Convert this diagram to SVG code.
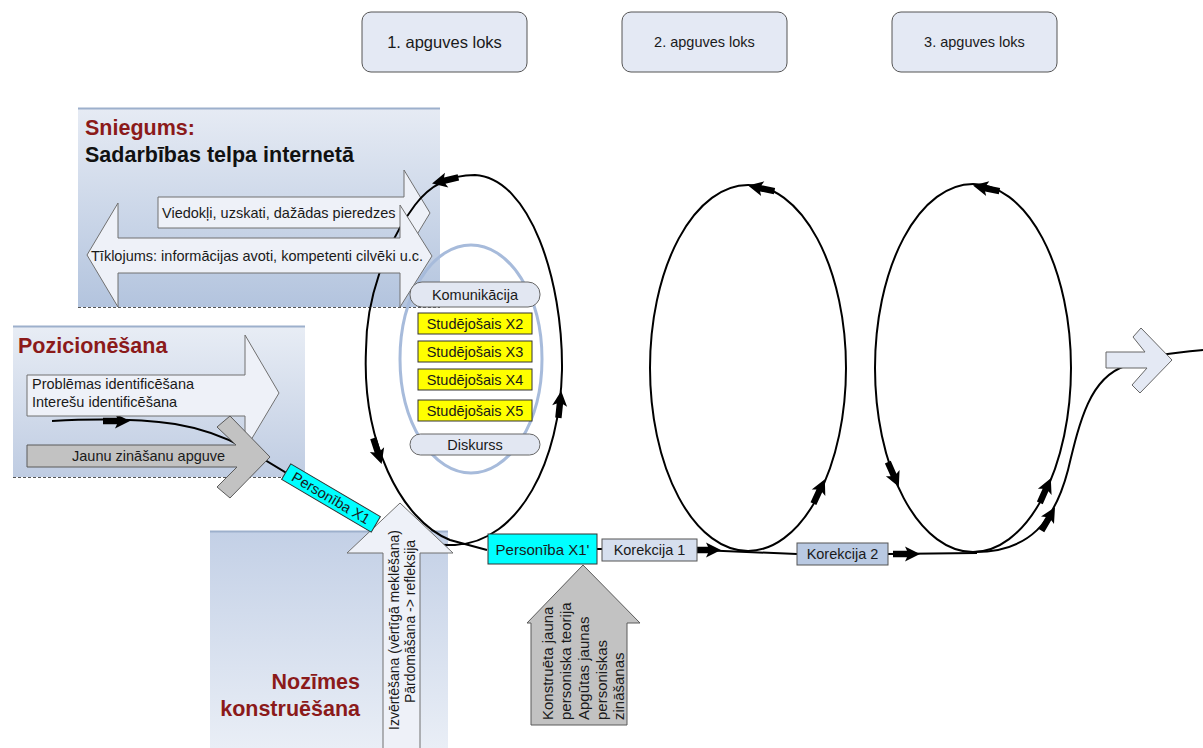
<svg xmlns="http://www.w3.org/2000/svg" width="1203" height="748" viewBox="0 0 1203 748">
<defs>
<linearGradient id="gS" x1="0" y1="0" x2="0" y2="1"><stop offset="0" stop-color="#e6ebf4"/><stop offset="1" stop-color="#b3c4de"/></linearGradient>
<linearGradient id="gP" x1="0" y1="0" x2="0" y2="1"><stop offset="0" stop-color="#e8edf5"/><stop offset="1" stop-color="#bfcce2"/></linearGradient>
<linearGradient id="gN" x1="0" y1="0" x2="0" y2="1"><stop offset="0" stop-color="#c3d0e6"/><stop offset="1" stop-color="#e9eef6"/></linearGradient>
<path id="ah" d="M-25,-3.2 H-11 L-13,-7.5 L2,0 L-13,7.5 L-11,3.2 H-25 Z"/>
</defs>
<style>
text{font-family:"Liberation Sans",Arial,sans-serif;font-size:14.5px;fill:#1a1a1a}
.ttl{font-weight:bold;font-size:21.5px;fill:#8b1a1a}
.blk{font-weight:bold;font-size:21.5px;fill:#111}
.ln{fill:none;stroke:#000;stroke-width:2}
.wa{fill:#eef1f8;stroke:#707070;stroke-width:1}
.ga{fill:#c2c2c2;stroke:#5a5a5a;stroke-width:1}
.cy{fill:#00ffff;stroke:#333;stroke-width:1}
.yl{fill:#ffff00;stroke:#333;stroke-width:1}
.pill{fill:#e2e7f2;stroke:#666;stroke-width:1}
.top{fill:#e4e9f4;stroke:#555;stroke-width:1}
.brd{stroke:#9db0cc;stroke-width:2}
.dsh{stroke:#555;stroke-width:1;stroke-dasharray:3,2}
.m{text-anchor:middle}
</style>

<g id="panel-sniegums">
<rect x="78" y="108" width="362" height="199" fill="url(#gS)"/>
<line x1="78" y1="108.5" x2="440" y2="108.5" class="brd"/>
<line x1="78" y1="307.5" x2="440" y2="307.5" class="dsh"/>
<text x="85" y="135" class="ttl">Sniegums:</text>
<text x="85" y="162" class="blk">Sadarbības telpa internetā</text>
</g>

<g id="panel-pozicionesana">
<rect x="13" y="326" width="292" height="151" fill="url(#gP)"/>
<line x1="13" y1="326.5" x2="305" y2="326.5" class="brd"/>
<line x1="13" y1="477.5" x2="305" y2="477.5" class="dsh"/>
<text x="18" y="353" class="ttl">Pozicionēšana</text>
</g>

<g id="panel-nozimes">
<rect x="210" y="531" width="238" height="217" fill="url(#gN)"/>
<line x1="210" y1="531.5" x2="448" y2="531.5" class="brd"/>
<text x="360" y="689" class="ttl" text-anchor="end">Nozīmes</text>
<text x="360" y="716" class="ttl" text-anchor="end">konstruēšana</text>
</g>

<g id="viedokli">
<path class="wa" d="M158,197 H404 V170 L430,213 L404,256 V228 H158 Z"/>
<text x="162" y="218">Viedokļi, uzskati, dažādas pieredzes</text>
</g>

<g id="komunikacija-ellipse">
<ellipse cx="471" cy="359" rx="71" ry="114" fill="none" stroke="#a7bbdb" stroke-width="3"/>
</g>

<g id="connectors">
<path class="ln" d="M52,421 C90,419 140,419 175,424 C205,429 225,437 245,448 L376,527 C400,540 425,546 455,545 C520,542 560,460 562,370 C563,280 530,178 475,175 C450,175 430,185 415,205 C385,245 366,300 366,350 C362,440 400,520 450,540 L487,550"/>
<path class="ln" d="M597,549 L602,549"/>
<path class="ln" d="M700,550 L797,554"/>
<ellipse class="ln" cx="748" cy="368" rx="98" ry="183"/>
<path class="ln" d="M888,554 L977,553"/>
<ellipse class="ln" cx="973" cy="368" rx="98" ry="184"/>
<path class="ln" d="M973,552 C1030,553 1055,520 1068,470 C1080,420 1090,378 1125,366"/>
<path class="ln" d="M1160,355 C1180,352 1192,351 1203,350"/>
<use href="#ah" transform="translate(128,421)"/>
<use href="#ah" transform="translate(434,183) rotate(167)"/>
<use href="#ah" transform="translate(381,462) rotate(72)"/>
<use href="#ah" transform="translate(561,393) rotate(-84)"/>
<use href="#ah" transform="translate(719,550)"/>
<use href="#ah" transform="translate(750,186) rotate(192)"/>
<use href="#ah" transform="translate(824,481) rotate(-65)"/>
<use href="#ah" transform="translate(918,554)"/>
<use href="#ah" transform="translate(898,485) rotate(66)"/>
<use href="#ah" transform="translate(975,186) rotate(192)"/>
<use href="#ah" transform="translate(1050,480) rotate(-66)"/>
<use href="#ah" transform="translate(1054,509) rotate(-60)"/>
</g>

<g id="tiklojums">
<path class="wa" d="M87,255 L118,203 V238 H400 V205 L432,256 L400,307 V273 H118 V307 Z"/>
<text x="91" y="260.5">Tīklojums: informācijas avoti, kompetenti cilvēki u.c.</text>
</g>

<g id="problemas">
<path class="wa" d="M27,375 H245 V335 L279,393 L245,450 V416 H27 Z"/>
<text x="32" y="389">Problēmas identificēšana</text>
<text x="32" y="407">Interešu identificēšana</text>
</g>

<g id="jaunu-zinasanu">
<path class="ga" d="M27,445 H236 L217,427 L230,416 L270,457 L230,498 L217,487 L237,467 H27 Z"/>
<text x="72" y="461">Jaunu zināšanu apguve</text>
</g>

<g id="izvertesana">
<path class="wa" d="M400,503 L453,553 H420 V749 H383 V553 H347 Z"/>
<text transform="translate(399,730) rotate(-90)" style="font-size:14px">Izvērtēšana (vērtīgā meklēšana)</text>
<text transform="translate(415,703) rotate(-90)" style="font-size:14px">Pārdomāšana -&gt; refleksija</text>
</g>

<g id="personiba-x1" transform="translate(331,498) rotate(30.5)">
<rect x="-52" y="-9" width="104" height="18" class="cy"/>
<text y="5" class="m">Personība X1</text>
</g>

<g id="komunikacija">
<rect x="410" y="282" width="130" height="25" rx="12" class="pill"/>
<text x="475" y="300" class="m">Komunikācija</text>
</g>
<g id="studejosais-x2">
<rect x="418" y="313" width="114" height="21" class="yl"/>
<text x="475" y="329" class="m">Studējošais X2</text>
</g>
<g id="studejosais-x3">
<rect x="418" y="341" width="114" height="21" class="yl"/>
<text x="475" y="357" class="m">Studējošais X3</text>
</g>
<g id="studejosais-x4">
<rect x="418" y="369" width="114" height="21" class="yl"/>
<text x="475" y="385" class="m">Studējošais X4</text>
</g>
<g id="studejosais-x5">
<rect x="418" y="400" width="114" height="21" class="yl"/>
<text x="475" y="416" class="m">Studējošais X5</text>
</g>
<g id="diskurss">
<rect x="410" y="434" width="130" height="21" rx="10.5" class="pill"/>
<text x="475" y="450" class="m">Diskurss</text>
</g>

<g id="personiba-x1p">
<rect x="488" y="534" width="109" height="30" class="cy"/>
<text x="542.5" y="555" class="m" style="font-size:15px">Personība X1'</text>
</g>
<g id="korekcija-1">
<rect x="602" y="539" width="95" height="22" fill="#d6dfee" stroke="#555"/>
<text x="649.5" y="555" class="m">Korekcija 1</text>
</g>
<g id="korekcija-2">
<rect x="797" y="543" width="91" height="22" fill="#b9c9e2" stroke="#555"/>
<text x="842.5" y="559" class="m">Korekcija 2</text>
</g>

<g id="konstrueta">
<path class="ga" d="M583,565 L640,623 H627 V725 H531 V623 H527 Z"/>
<text transform="translate(553,720) rotate(-90)" style="font-size:15px">Konstruēta jauna</text>
<text transform="translate(571,720) rotate(-90)" style="font-size:15px">personiska teorija</text>
<text transform="translate(589,720) rotate(-90)" style="font-size:15px">Apgūtas jaunas</text>
<text transform="translate(607,720) rotate(-90)" style="font-size:15px">personiskas</text>
<text transform="translate(624,720) rotate(-90)" style="font-size:15px">zināšanas</text>
</g>

<g id="next-arrow">
<path d="M1106,352 H1145 L1133,337 L1141,328 L1172,360 L1140,393 L1132,385 L1147,368 H1106 Z" fill="#e4e9f4" stroke="#666"/>
</g>

<g id="loop-1">
<rect x="362" y="12" width="165" height="60" rx="9" class="top"/>
<text x="444.5" y="48" class="m" style="font-size:16.5px">1. apguves loks</text>
</g>
<g id="loop-2">
<rect x="622" y="12" width="165" height="60" rx="9" class="top"/>
<text x="704.5" y="47" class="m">2. apguves loks</text>
</g>
<g id="loop-3">
<rect x="892" y="12" width="165" height="60" rx="9" class="top"/>
<text x="974.5" y="47" class="m">3. apguves loks</text>
</g>
</svg>
